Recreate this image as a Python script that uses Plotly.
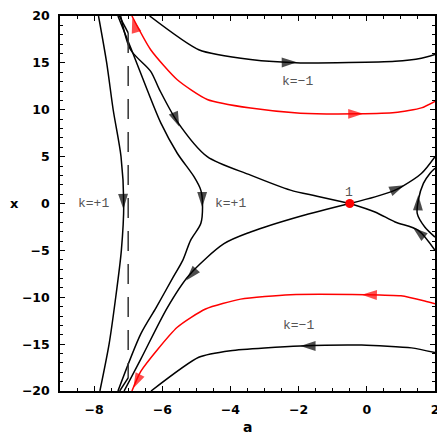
import plotly.graph_objects as go

# ---- trajectories (a, x) ----
far_a = [-7.87, -7.63, -7.44, -7.21, -7.13, -7.20, -7.38, -7.56, -7.83]
far_x = [20, 15, 10, 5, 0, -5, -10.4, -15, -20]

p_a = [-7.30, -6.87, -6.44, -6.04, -5.56, -5.07, -4.87, -4.82, -4.87, -5.17, -5.40, -5.68, -6.18, -6.63, -7.30]
p_x = [20, 16.1, 12.1, 8.57, 5.36, 2.86, 1.43, 0, -2.14, -3.93, -6.07, -7.86, -11.1, -13.9, -20]

q_a = [-7.22, -6.93, -6.34, -6.09, -5.56, -4.68, -3.41, -2.24, -1.46, -0.5]
q_x = [20, 16.4, 14.1, 12.2, 8.74, 5.0, 3.03, 1.43, 0.78, 0]

qd_a = [-0.5, -1.95, -3.41, -4.19, -5.22, -5.85, -6.63, -7.12]
qd_x = [0, -1.36, -3.04, -4.29, -7.68, -11.1, -16.6, -20]

top_extra_a = [-7.26, -7.0]
top_extra_x = [20, 18.2]
bot_extra_a = [-7.25, -7.0]
bot_extra_x = [-20, -18.6]

u1_a = [-0.5, 0.24, 0.83, 1.02, 1.6, 2.0]
u1_x = [0, 0.71, 1.43, 1.78, 3.2, 5.0]

s2_a = [-0.5, 0.24, 0.83, 1.51, 2.0]
s2_x = [0, -0.9, -1.97, -2.86, -5.0]

c_a = [2.0, 1.7, 1.48, 1.51, 1.66, 1.85, 2.0]
c_x = [-3.58, -2.5, -1.07, 0.36, 2.14, 3.2, 3.75]

b1_a = [-6.37, -4.93, -3.41, -1.95, 0.83, 1.6, 2.0]
b1_x = [20, 16.4, 15.35, 15.0, 15.17, 15.5, 15.9]

b2_a = [-6.33, -4.93, -4.0, -1.95, -0.15, 1.31, 2.0]
b2_x = [-20, -16.4, -15.7, -15.2, -15.1, -15.4, -15.9]

r1_a = [-6.89, -6.34, -5.56, -4.68, -3.41, -1.95, -0.25, 0.83, 1.6, 2.0]
r1_x = [20, 16.4, 13.2, 11.1, 10.18, 9.64, 9.57, 9.7, 10.2, 10.9]

r2_a = [-6.89, -6.63, -5.56, -4.73, -3.7, -2.24, -0.05, 1.0, 1.7, 2.0]
r2_x = [-20, -17.9, -13.2, -11.25, -10.2, -9.72, -9.72, -9.85, -10.4, -10.7]

dash_a = [-7.0, -7.0]
dash_x = [18.2, -18.6]

saddle_a = [-0.5]
saddle_x = [0]

# arrows: (from_a, from_x) -> (tip_a, tip_x), colour
arrow_from_a = [-7.15, -5.70, -4.83, -4.98, 0.85, 1.60, 1.50, -2.40, -1.55, -6.80, -0.50, -6.70, 0.30]
arrow_from_x = [1.0, 9.9, 1.0, -6.9, 1.55, -3.30, -0.6, 15.05, -15.2, 18.8, 9.56, -18.6, -9.76]
arrow_tip_a = [-7.14, -5.50, -4.83, -5.30, 1.10, 1.35, 1.51, -2.05, -1.95, -6.88, -0.10, -6.85, -0.15]
arrow_tip_x = [-0.6, 8.2, -0.4, -8.2, 1.95, -2.55, 0.9, 15.06, -15.2, 19.8, 9.57, -19.7, -9.72]
arrow_col = ["black"] * 9 + ["red"] * 4

labels_text = ["k=+1", "k=+1", "k=\u22121", "k=\u22121", "1"]
labels_a = [-8.01, -4.0, -2.02, -2.0, -0.52]
labels_x = [0, 0, 13.03, -13.04, 1.15]

fig = go.Figure()

def curve(a, x, color="black", width=1.5, dash=None, smooth=0.8):
    fig.add_trace(go.Scatter(x=a, y=x, mode="lines",
                             line=dict(color=color, width=width, shape="spline",
                                       smoothing=smooth, dash=dash),
                             hoverinfo="skip", showlegend=False))

curve(far_a, far_x)
curve(p_a, p_x)
curve(q_a, q_x)
curve(qd_a, qd_x)
curve(top_extra_a, top_extra_x)
curve(bot_extra_a, bot_extra_x)
curve(u1_a, u1_x)
curve(s2_a, s2_x)
curve(c_a, c_x)
curve(b1_a, b1_x, smooth=0.6)
curve(b2_a, b2_x, smooth=0.6)
curve(r1_a, r1_x, color="red", smooth=0.6)
curve(r2_a, r2_x, color="red", smooth=0.6)
fig.add_trace(go.Scatter(x=dash_a, y=dash_x, mode="lines",
                         line=dict(color="#333333", width=1.5, dash="20px,13px"),
                         hoverinfo="skip", showlegend=False))

for fa, fx, ta, tx, col in zip(arrow_from_a, arrow_from_x, arrow_tip_a, arrow_tip_x, arrow_col):
    fig.add_trace(go.Scatter(x=[fa, ta], y=[fx, tx], mode="markers",
                             marker=dict(symbol="arrow", size=[0, 16], color=col,
                                         angleref="previous", line=dict(width=0)),
                             hoverinfo="skip", showlegend=False))

fig.add_trace(go.Scatter(x=saddle_a, y=saddle_x, mode="markers",
                         marker=dict(color="red", size=9),
                         hoverinfo="skip", showlegend=False))

for t, a, x in zip(labels_text, labels_a, labels_x):
    fig.add_annotation(x=a, y=x, text=t, showarrow=False,
                       font=dict(family="Liberation Mono", size=13, color="#555555"))

fig.add_annotation(xref="paper", yref="paper", x=0.5, y=-0.097, text="a", showarrow=False,
                   yanchor="middle", font=dict(family="DejaVu Sans", size=14, color="black", weight="bold"))
fig.add_annotation(xref="paper", yref="paper", x=-0.137, y=0.5, text="x", showarrow=False,
                   xanchor="left", borderpad=0,
                   font=dict(family="DejaVu Sans", size=13, color="black", weight="bold"))

axis_common = dict(showgrid=False, zeroline=False, showline=True, linecolor="black", linewidth=1.5,
                   mirror="ticks", ticks="inside", ticklen=5, tickwidth=1, tickcolor="black",
                   tickfont=dict(family="DejaVu Sans", size=12.5, color="black", weight="bold"),
                   ticklabelstandoff=6, automargin=False)

fig.update_xaxes(range=[-9, 2], tick0=0, dtick=2,
                 minor=dict(ticks="inside", ticklen=3, tickmode="linear", tick0=0, dtick=0.5,
                            tickcolor="black", tickwidth=1),
                 **axis_common)
fig.update_yaxes(range=[-19.999, 20], tick0=0, dtick=5,
                 minor=dict(ticks="inside", ticklen=3, tickmode="linear", tick0=0, dtick=1,
                            tickcolor="black", tickwidth=1),
                 **axis_common)

# page body adds an 8px offset; margins compensate so the frame sits at 60..435 x 16..391
fig.update_layout(width=437, height=437, margin=dict(l=52, r=10, t=8, b=54, autoexpand=False),
                  plot_bgcolor="white", paper_bgcolor="white")

fig.write_html("out.html")
